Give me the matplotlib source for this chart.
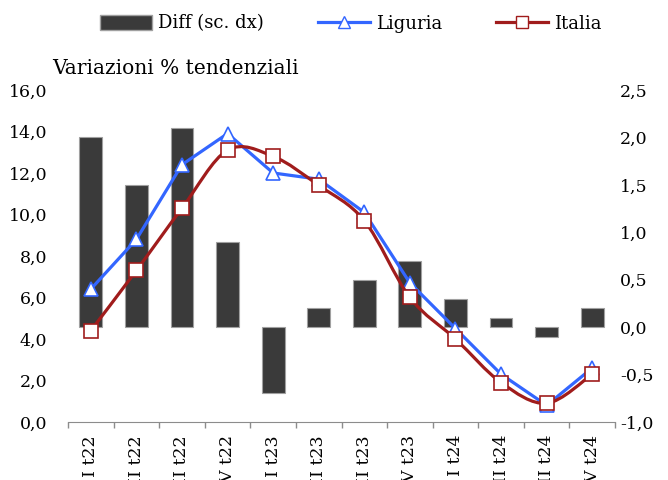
import matplotlib
matplotlib.use('Agg')
import matplotlib.pyplot as plt
from matplotlib.path import Path
from matplotlib.patches import PathPatch, Patch
from matplotlib.lines import Line2D
from matplotlib.ticker import FuncFormatter
import numpy as np

plt.rcParams['font.family'] = ['DejaVu Serif']

# ── dati ──────────────────────────────────────────────
trimestri = ['I t22', 'II t22', 'III t22', 'IV t22',
             'I t23', 'II t23', 'III t23', 'IV t23',
             'I t24', 'II t24', 'III t24', 'IV t24']
liguria = [6.4, 8.8, 12.4, 13.9, 12.0, 11.7, 10.1, 6.7, 4.5, 2.3, 0.8, 2.6]
italia  = [4.4, 7.3, 10.3, 13.1, 12.8, 11.4, 9.7, 6.0, 4.0, 1.9, 0.9, 2.3]
diff    = [2.0, 1.5, 2.1, 0.9, -0.7, 0.2, 0.5, 0.7, 0.3, 0.1, -0.1, 0.2]

BAR   = '#3a3a3a'
BLUE  = '#3366ff'
RED   = '#a01c1c'
GREY  = '#8c8c8c'

fig = plt.figure(figsize=(6.68, 4.80), dpi=100, facecolor='white')
ax = fig.add_axes([0.1018, 0.121, 0.8189, 0.6915])
ax2 = ax.twinx()

x = np.arange(len(trimestri))

# barre (asse dx)
ax2.bar(x, diff, width=0.5, color=BAR, edgecolor='#a0a0a0', linewidth=0.8)
ax2.set_ylim(-1.0, 2.5)
ax2.set_yticks(np.arange(-1.0, 2.51, 0.5))


def smooth_path(xs, ys):
    # curva liscia tipo Excel (Catmull-Rom -> Bezier)
    pts = np.column_stack([xs, ys]).astype(float)
    verts = [pts[0]]
    codes = [Path.MOVETO]
    n = len(pts)
    for i in range(n - 1):
        p0 = pts[i - 1] if i > 0 else pts[i]
        p1 = pts[i]
        p2 = pts[i + 1]
        p3 = pts[i + 2] if i + 2 < n else pts[i + 1]
        c1 = p1 + (p2 - p0) / 6.0
        c2 = p2 - (p3 - p1) / 6.0
        verts += [c1, c2, p2]
        codes += [Path.CURVE4] * 3
    return Path(verts, codes)


# Liguria spezzata, Italia smussata
ax.plot(x, liguria, color=BLUE, lw=2.3, marker='^', ms=10, mfc='white',
        mec=BLUE, mew=1.2, zorder=3)
ax.add_patch(PathPatch(smooth_path(x, italia), facecolor='none',
                       edgecolor=RED, lw=2.3, zorder=4))
ax.plot(x, italia, ls='none', marker='s', ms=9.5, mfc='white',
        mec=RED, mew=1.2, zorder=6)

ax.set_zorder(ax2.get_zorder() + 1)
ax.patch.set_visible(False)

ax.set_xlim(-0.5, len(trimestri) - 0.5)
ax.set_ylim(0, 16)
ax.set_yticks(np.arange(0, 16.1, 2))

fmt = FuncFormatter(lambda v, p: f'{v:.1f}'.replace('.', ','))
ax.yaxis.set_major_formatter(fmt)
ax2.yaxis.set_major_formatter(fmt)

for a in (ax, ax2):
    for s in a.spines.values():
        s.set_visible(False)
ax.spines['bottom'].set_visible(True)
ax.spines['bottom'].set_color(GREY)

ax.tick_params(axis='y', length=0, labelsize=12.5, pad=15)
ax2.tick_params(axis='y', length=0, labelsize=12.5, pad=3.6)

# tick tra le categorie, etichette al centro
ax.set_xticks(np.arange(-0.5, len(trimestri), 1.0))
ax.set_xticklabels([])
ax.tick_params(axis='x', length=4.5, color=GREY, width=1)
ax.set_xticks(x, minor=True)
ax.set_xticklabels(trimestri, minor=True, rotation=90, fontsize=12.5,
                   va='top', ha='center')
ax.tick_params(axis='x', which='minor', length=0, pad=9.4)

fig.text(0.078, 0.838, 'Variazioni % tendenziali', fontsize=14.5,
         ha='left', va='bottom')

handles = [
    Patch(facecolor=BAR, edgecolor='#a0a0a0', label='Diff (sc. dx)'),
    Line2D([0], [0], color=BLUE, lw=2.3, marker='^', ms=8, mfc='white',
           mec=BLUE, label='Liguria'),
    Line2D([0], [0], color=RED, lw=2.3, marker='s', ms=8, mfc='white',
           mec=RED, label='Italia'),
]
fig.legend(handles=handles, loc='center', bbox_to_anchor=(0.525, 0.951),
           ncol=3, frameon=False, fontsize=13, handlelength=2.9,
           handleheight=0.9, columnspacing=3.0, handletextpad=0.3)

fig.savefig('out.png', dpi=100, facecolor='white')
